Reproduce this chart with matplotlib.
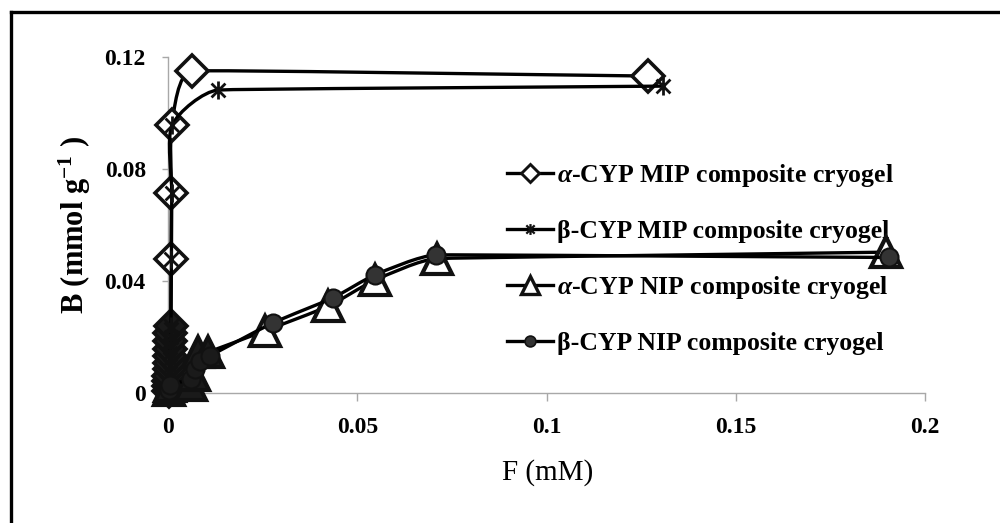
import numpy as np
import matplotlib
matplotlib.use("Agg")
import matplotlib.pyplot as plt
from matplotlib.path import Path
from matplotlib.patches import PathPatch
from matplotlib.lines import Line2D

plt.rcParams["font.family"] = ["Liberation Serif", "DejaVu Serif"]
plt.rcParams["mathtext.fontset"] = "custom"
plt.rcParams["mathtext.rm"] = "Liberation Serif:bold"
plt.rcParams["mathtext.it"] = "Liberation Serif:italic:bold"
plt.rcParams["mathtext.bf"] = "Liberation Serif:bold"

# F (mM) vs B (mmol/g); low points sit in the black blob at F~0
alpha_mip_x = [0.0002, 0.0002, 0.0003, 0.0003, 0.0004, 0.0004, 0.0005, 0.0005, 0.0006,
               0.0006, 0.0007, 0.0008, 0.0009, 0.0010, 0.0063, 0.1268]
alpha_mip_y = [0.0006, 0.0024, 0.0042, 0.0060, 0.0084, 0.0108, 0.0132, 0.0156, 0.0186,
               0.0216, 0.0239, 0.0479, 0.0714, 0.0957, 0.1150, 0.1132]

beta_mip_x = [0.0003, 0.0003, 0.0004, 0.0004, 0.0005, 0.0005, 0.0006, 0.0006, 0.0007,
              0.0007, 0.0008, 0.0009, 0.0010, 0.0011, 0.0132, 0.1308]
beta_mip_y = [0.0015, 0.0033, 0.0051, 0.0072, 0.0096, 0.0120, 0.0144, 0.0171, 0.0201,
              0.0228, 0.0239, 0.0479, 0.0714, 0.0957, 0.1082, 0.1096]

alpha_nip_x = [0.0002, 0.0004, 0.0060, 0.0068, 0.0078, 0.0106, 0.0256, 0.0423, 0.0547, 0.0710, 0.1898]
alpha_nip_y = [0.0010, 0.0025, 0.0030, 0.0065, 0.0146, 0.0146, 0.0222, 0.0310, 0.0403, 0.0480, 0.0503]

beta_nip_x = [0.0002, 0.0005, 0.0062, 0.0072, 0.0085, 0.0110, 0.0277, 0.0436, 0.0547, 0.0708, 0.1905]
beta_nip_y = [0.0012, 0.0030, 0.0050, 0.0085, 0.0115, 0.0132, 0.0250, 0.0340, 0.0422, 0.0493, 0.0484]

labels = [r"$\alpha$-CYP MIP composite cryogel",
          "β-CYP MIP composite cryogel",
          r"$\alpha$-CYP NIP composite cryogel",
          "β-CYP NIP composite cryogel"]

x_ticks = [0, 0.05, 0.1, 0.15, 0.2]
x_tick_labels = ["0", "0.05", "0.1", "0.15", "0.2"]
y_ticks = [0, 0.04, 0.08, 0.12]
y_tick_labels = ["0", "0.04", "0.08", "0.12"]

# excel-like asterisk marker
star = Path([(-1, -1), (1, 1), (-1, 1), (1, -1), (0, -1.3), (0, 1.3)],
            [Path.MOVETO, Path.LINETO, Path.MOVETO, Path.LINETO, Path.MOVETO, Path.LINETO])


def smooth_line(ax, xs, ys, z, tension=0.25):
    # smoothed connector like excel, control points worked out in pixel space
    pts = ax.transData.transform(np.column_stack([xs, ys]))
    n = len(pts)
    seg = [np.linalg.norm(pts[i + 1] - pts[i]) for i in range(n - 1)]
    verts = [pts[0]]
    codes = [Path.MOVETO]
    for i in range(n - 1):
        p0, p1 = pts[max(i - 1, 0)], pts[i]
        p2, p3 = pts[i + 1], pts[min(i + 2, n - 1)]
        d = seg[i]
        l1 = min(d, seg[i - 1]) if i > 0 else d
        l2 = min(d, seg[i + 1]) if i < n - 2 else d
        t1 = p2 - p0
        t2 = p3 - p1
        c1 = p1 + t1 / np.linalg.norm(t1) * l1 * tension if np.linalg.norm(t1) > 0 else p1
        c2 = p2 - t2 / np.linalg.norm(t2) * l2 * tension if np.linalg.norm(t2) > 0 else p2
        verts += [c1, c2, p2]
        codes += [Path.CURVE4] * 3
    verts = ax.transData.inverted().transform(np.array(verts))
    patch = PathPatch(Path(verts, codes), fill=False, edgecolor="black", lw=2.4,
                      transform=ax.transData, clip_on=False, zorder=z)
    ax.add_patch(patch)


fig = plt.figure(figsize=(10, 5.23), dpi=100)
ax = fig.add_axes([0.168, 0.2486, 0.757, 0.6424])
ax.set_xlim(0, 0.2)
ax.set_ylim(0, 0.12)

styles = [
    dict(marker="D", ms=16, mfc="white", mec="#111111", mew=2.6),
    dict(marker=star, ms=13, mfc="none", mec="#111111", mew=2.0),
    dict(marker="^", ms=22, mfc="white", mec="#111111", mew=3.0),
    dict(marker="o", ms=13, mfc="#333333", mec="#111111", mew=1.5),
]
series = [(alpha_mip_x, alpha_mip_y), (beta_mip_x, beta_mip_y),
          (alpha_nip_x, alpha_nip_y), (beta_nip_x, beta_nip_y)]

for k, ((xs, ys), st) in enumerate(zip(series, styles)):
    smooth_line(ax, xs, ys, 3 + 2 * k)
    xs = np.array(xs)
    ys = np.array(ys)
    low = (xs < 0.015) & (ys < 0.026)
    ax.plot(xs[~low], ys[~low], ls="none", clip_on=False, zorder=4 + 2 * k, **st)
    # the overlapping markers near the origin print as a solid dark blob
    dark = dict(st, mfc="#1a1a1a")
    ax.plot(xs[low], ys[low], ls="none", clip_on=False, zorder=4 + 2 * k, **dark)

for side in ["top", "right"]:
    ax.spines[side].set_visible(False)
for side in ["left", "bottom"]:
    ax.spines[side].set_color("#a8a8a8")
    ax.spines[side].set_linewidth(1)

ax.set_xticks(x_ticks)
ax.set_xticklabels(x_tick_labels)
ax.set_yticks(y_ticks)
ax.set_yticklabels(y_tick_labels)
ax.tick_params(axis="x", length=6, width=1, color="#a8a8a8", pad=11, labelsize=17)
ax.tick_params(axis="y", length=4, width=1, color="#a8a8a8", pad=12, labelsize=17)
for t in ax.get_xticklabels() + ax.get_yticklabels():
    t.set_fontweight("bold")

fig.text(0.548, 1 - 473 / 523, "F (mM)", fontsize=21, ha="center", va="center")
fig.text(0.075, 1 - 225 / 523, r"B (mmol g$^{\mathbf{-1}}$ )", fontsize=22,
         fontweight="bold", rotation=90, ha="center", va="center")

handles = []
for st in styles:
    h = dict(st)
    h["ms"] = st["ms"] * 0.6
    h["mew"] = st["mew"] * 0.8
    handles.append(Line2D([], [], color="black", lw=2.4, **h))
ax.legend(handles, labels, loc="upper left", bbox_to_anchor=(0.507, 0.69),
          bbox_transform=fig.transFigure, frameon=False, borderpad=0, borderaxespad=0,
          handlelength=1.8, handletextpad=0.15, labelspacing=1.2,
          prop={"family": "Liberation Serif", "weight": "bold", "size": 18.5})

# outer frame of the original picture
fig.add_artist(Line2D([0.011, 1.0], [1 - 11.5 / 523, 1 - 11.5 / 523], color="black",
                      lw=2.4, transform=fig.transFigure))
fig.add_artist(Line2D([0.011, 0.011], [0.0, 1 - 11.5 / 523], color="black",
                      lw=2.4, transform=fig.transFigure))

fig.savefig("out.png", dpi=100)
